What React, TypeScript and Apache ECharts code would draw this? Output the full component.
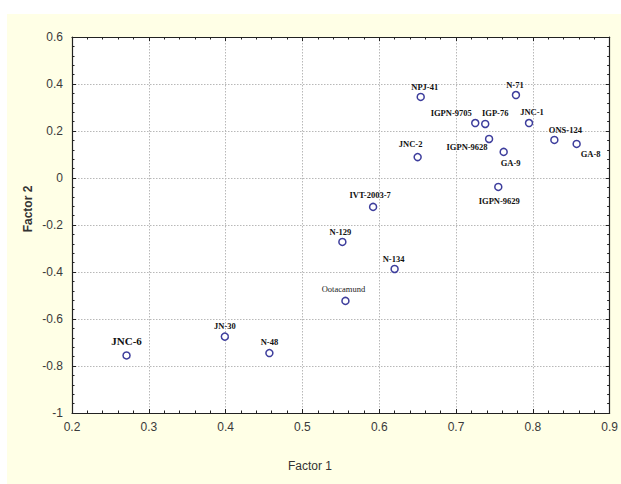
import React, { useEffect, useRef } from "react";
import * as echarts from "echarts";

// ---- data ----
const genotypes = [
  "NPJ-41", "N-71", "IGPN-9705", "IGP-76", "JNC-1", "ONS-124", "GA-8",
  "JNC-2", "IGPN-9628", "GA-9", "IGPN-9629", "IVT-2003-7", "N-129",
  "N-134", "Ootacamund", "JN-30", "N-48", "JNC-6",
];
const factor1 = [
  0.654, 0.778, 0.725, 0.738, 0.795, 0.828, 0.857,
  0.650, 0.743, 0.762, 0.755, 0.592, 0.552,
  0.620, 0.556, 0.399, 0.457, 0.271,
];
const factor2 = [
  0.345, 0.353, 0.234, 0.230, 0.234, 0.162, 0.145,
  0.089, 0.166, 0.111, -0.038, -0.123, -0.272,
  -0.387, -0.523, -0.675, -0.745, -0.755,
];
const xTicks = { min: 0.2, max: 0.9, step: 0.1 };
const yTicks = { min: -1, max: 0.6, step: 0.2 };
const xTitle = "Factor 1";
const yTitle = "Factor 2";

// ---- label layout (pixel offsets from each marker) ----
const labelOffsets: Record<string, [number, number]> = {
  "NPJ-41": [4, -10],
  "N-71": [-1, -10],
  "IGPN-9705": [-24, -10],
  "IGP-76": [10, -11],
  "JNC-1": [3, -11],
  "ONS-124": [11, -10],
  "GA-8": [14, 10],
  "JNC-2": [-7, -13],
  "IGPN-9628": [-22, 8],
  "GA-9": [7, 11],
  "IGPN-9629": [1, 14],
  "IVT-2003-7": [-3, -12],
  "N-129": [-2, -10],
  "N-134": [-1, -10],
  "Ootacamund": [-2, -12],
  "JN-30": [0, -11],
  "N-48": [0, -11],
  "JNC-6": [0, -14],
};

export default function App() {
  const ref = useRef<HTMLDivElement>(null);

  useEffect(() => {
    if (!ref.current) return;
    const chart = echarts.init(ref.current, undefined, { renderer: "svg" });

    const tickFont = {
      fontFamily: "'Liberation Sans Narrow', 'Liberation Sans', Arial, sans-serif",
      fontSize: 12,
      color: "#3a3a3a",
    };

    const data = genotypes.map((n, i) => {
      const big = n === "JNC-6";
      const plain = n === "Ootacamund";
      return {
        name: n,
        value: [factor1[i], factor2[i]],
        label: {
          offset: labelOffsets[n],
          fontSize: big ? 11 : 8.5,
          fontWeight: plain ? "normal" : "bold",
          color: plain ? "#222222" : "#111111",
        },
      };
    });

    const baseAxis = (pos: string, isX: boolean, main: boolean) => {
      const t = isX ? xTicks : yTicks;
      return {
        type: "value",
        position: pos,
        min: t.min,
        max: t.max,
        interval: t.step,
        axisLine: { show: true, onZero: false, lineStyle: { color: "#222", width: 1.2 } },
        axisTick: { show: true, inside: true, length: 4, lineStyle: { color: "#222" } },
        minorTick: { show: true, splitNumber: 5, length: 2.5, lineStyle: { color: "#222" } },
        axisLabel: {
          show: main,
          margin: isX ? 8 : 9,
          ...tickFont,
          formatter: (v: number) => {
            const r = Math.round(v * 10) / 10;
            return String(r);
          },
        },
        splitLine: {
          show: main,
          lineStyle: { color: "#b8b8b8", type: [1.5, 1.5], width: 1 },
        },
        minorSplitLine: { show: false },
      };
    };

    chart.setOption({
      animation: false,
      backgroundColor: "#ffffff",
      graphic: [
        {
          type: "rect",
          z: -10,
          silent: true,
          shape: { x: 7, y: 14, width: 614, height: 470 },
          style: { fill: "#FFFFE6" },
        },
        {
          type: "text",
          x: 310,
          y: 466,
          style: {
            text: xTitle,
            fill: "#333",
            font: "12px 'Liberation Sans Narrow', 'Liberation Sans', Arial, sans-serif",
            textAlign: "center",
            textVerticalAlign: "middle",
          },
        },
        {
          type: "text",
          x: 28,
          y: 209,
          rotation: Math.PI / 2,
          style: {
            text: yTitle,
            fill: "#333",
            font: "bold 12px 'Liberation Sans', Arial, sans-serif",
            textAlign: "center",
            textVerticalAlign: "middle",
          },
        },
      ],
      grid: {
        left: 72,
        top: 37,
        right: 8,
        bottom: 71,
        show: true,
        backgroundColor: "#ffffff",
        borderWidth: 0,
      },
      xAxis: [baseAxis("bottom", true, true), baseAxis("top", true, false)],
      yAxis: [baseAxis("left", false, true), baseAxis("right", false, false)],
      series: [
        {
          type: "scatter",
          xAxisIndex: 0,
          yAxisIndex: 0,
          symbol: "circle",
          symbolSize: 7,
          itemStyle: { color: "#ffffff", borderColor: "#3d3d9c", borderWidth: 1.5, opacity: 1 },
          label: {
            show: true,
            position: "inside",
            formatter: "{b}",
            color: "#111",
            fontFamily: "'Liberation Serif', 'Times New Roman', serif",
            align: "center",
            verticalAlign: "middle",
          },
          data,
        },
      ],
    });

    return () => chart.dispose();
  }, []);

  return (
    <div
      ref={ref}
      style={{ position: "fixed", left: 0, top: 0, width: 621, height: 484 }}
    />
  );
}
